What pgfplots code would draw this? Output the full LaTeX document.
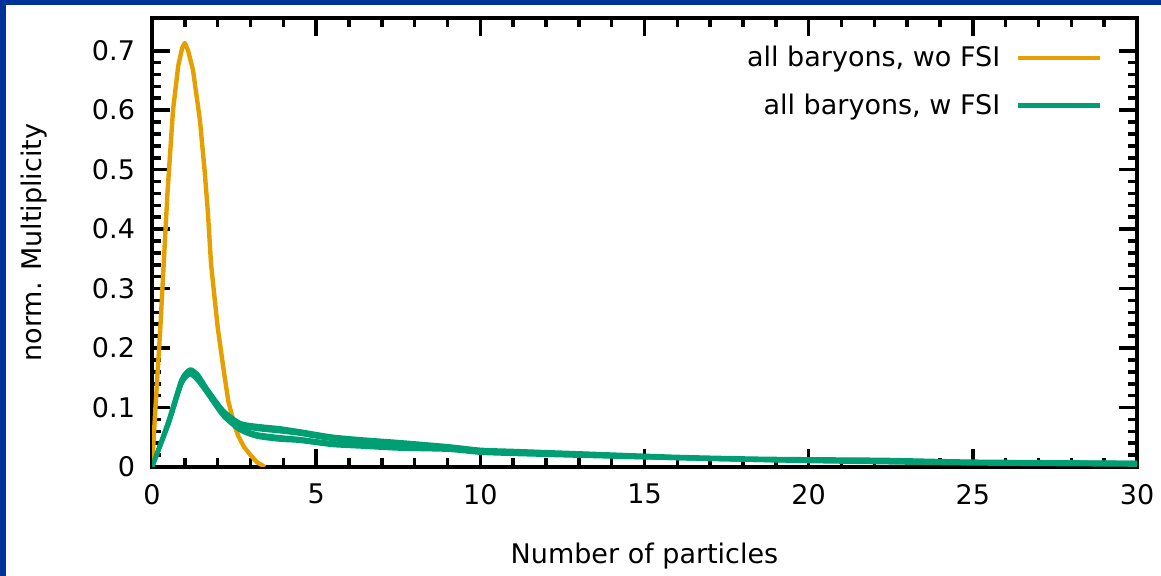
\documentclass[border=0pt]{standalone}
\usepackage{fontspec}
\setmainfont{DejaVu Sans}
\usepackage{pgfplots}
\pgfplotsset{compat=1.18}
\definecolor{frameblue}{HTML}{003399}
\definecolor{gpOrange}{HTML}{E69F00}
\definecolor{gpGreen}{HTML}{009E73}

\begin{document}
\begin{tikzpicture}
\useasboundingbox (0,0) rectangle (580.5pt,288pt);
\fill[frameblue] (0,0) rectangle (3pt,288pt);
\fill[frameblue] (0,285.5pt) rectangle (580.5pt,288pt);
\begin{axis}[
  at={(76pt,54.5pt)}, anchor=south west,
  scale only axis, width=492.5pt, height=224.5pt,
  xmin=0, xmax=30, ymin=0, ymax=0.755,
  xtick={0,5,...,30}, minor x tick num=4,
  ytick={0,0.1,0.2,0.3,0.4,0.5,0.6,0.7}, minor y tick num=4,
  tick align=inside,
  major tick length=9pt, minor tick length=4.5pt,
  major tick style={black, line width=1.8pt},
  minor tick style={black, line width=1.8pt},
  axis line style={line width=2.4pt},
  font=\fontsize{13.5pt}{16pt}\selectfont,
  /pgf/number format/assume math mode=true,
  /pgf/number format/fixed,
  yticklabel style={xshift=-5pt},
  xticklabel style={yshift=-5pt},
  xlabel={Number of particles},
  ylabel={norm. Multiplicity},
  xlabel style={at={(axis description cs:0.5,-0.214)}, anchor=base},
  ylabel style={at={(axis description cs:-0.112,0.5)}, anchor=base},
  legend cell align=right,
  legend plot pos=right,
  legend image code/.code={\draw[#1] (0pt,0pt) -- (41pt,0pt);},
  legend style={draw=none, fill=none, at={(axis description cs:1,1)},
    anchor=north east, xshift=-14pt, yshift=-10pt,
    row sep=8pt, column sep=6pt, font=\fontsize{13.5pt}{16pt}\selectfont},
]
% without FSI
\addplot[color=gpOrange, line width=2.2pt, line join=round] coordinates {
  (0,0) (0.1,0.095) (0.25,0.23) (0.47,0.46) (0.64,0.6) (0.8,0.675) (0.92,0.705)
  (1.0,0.713) (1.1,0.70) (1.25,0.667) (1.46,0.583) (1.6,0.5) (1.7,0.43)
  (1.8,0.34) (2.0,0.235) (2.17,0.168) (2.32,0.112) (2.5,0.072) (2.63,0.052)
  (2.8,0.034) (3.0,0.02) (3.2,0.008) (3.44,0)
};
\addlegendentry{all baryons, wo FSI}
% with FSI (several runs)
\addplot[color=gpGreen, line width=2.2pt, line join=round, smooth, tension=0.4] coordinates {
  (0,0) (0.5,0.077) (0.9,0.147) (1.16,0.164) (1.4,0.155) (1.67,0.132) (2.17,0.095)
  (2.68,0.074) (3.2,0.069) (3.9,0.065) (4.5,0.060) (5.5,0.051) (6.5,0.046)
  (7.5,0.042) (9,0.035) (10,0.029) (11,0.027) (13,0.023) (16,0.017) (18.4,0.014)
  (20,0.013) (22.3,0.012) (25,0.009) (30,0.007)
};
\addlegendentry{all baryons, w FSI}
\addplot[color=gpGreen, line width=2.2pt, line join=round, smooth, tension=0.4, forget plot] coordinates {
  (0,0) (0.5,0.075) (0.9,0.145) (1.16,0.162) (1.4,0.152) (1.67,0.130) (2.17,0.092)
  (2.68,0.070) (3.2,0.064) (3.9,0.060) (4.5,0.056) (5.5,0.047) (6.5,0.043)
  (7.5,0.039) (9,0.033) (10,0.027) (11,0.025) (13,0.022) (16,0.016) (18.4,0.013)
  (20,0.012) (22.3,0.011) (25,0.008) (30,0.007)
};
\addplot[color=gpGreen, line width=2.2pt, line join=round, smooth, tension=0.4, forget plot] coordinates {
  (0,0) (0.5,0.073) (0.9,0.142) (1.16,0.158) (1.4,0.148) (1.67,0.127) (2.17,0.089)
  (2.68,0.065) (3.2,0.055) (3.9,0.050) (4.5,0.047) (5.5,0.040) (6.5,0.037)
  (7.5,0.034) (9,0.031) (10,0.025) (11,0.023) (13,0.020) (16,0.015) (18.4,0.012)
  (20,0.011) (22.3,0.009) (25,0.007) (30,0.005)
};
\addplot[color=gpGreen, line width=2.2pt, line join=round, smooth, tension=0.4, forget plot] coordinates {
  (0,0) (0.5,0.072) (0.9,0.140) (1.16,0.156) (1.4,0.145) (1.67,0.125) (2.17,0.086)
  (2.68,0.062) (3.2,0.051) (3.9,0.046) (4.5,0.044) (5.5,0.037) (6.5,0.034)
  (7.5,0.031) (9,0.029) (10,0.024) (11,0.022) (13,0.019) (16,0.015) (18.4,0.012)
  (20,0.010) (22.3,0.008) (25,0.006) (30,0.004)
};
\end{axis}
\end{tikzpicture}
\end{document}
